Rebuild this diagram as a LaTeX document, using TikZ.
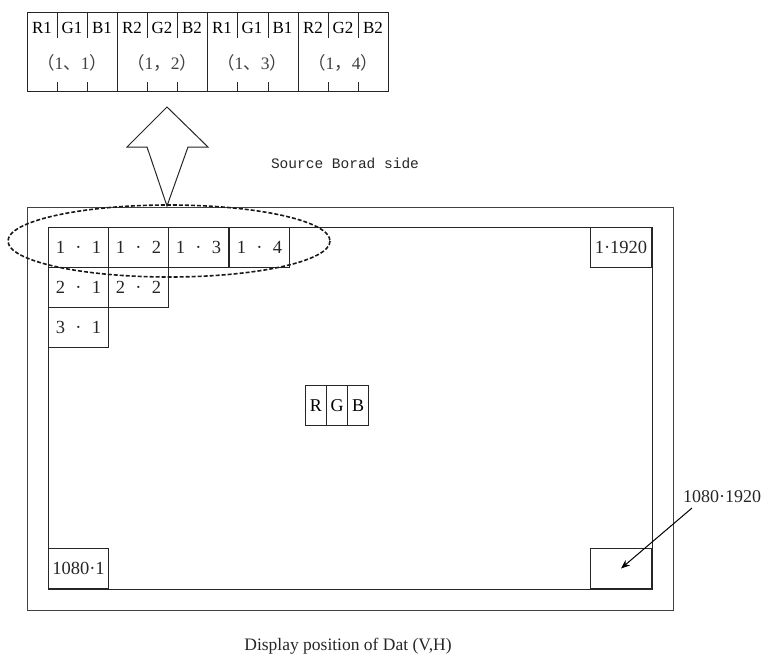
\documentclass[tikz,border=0pt]{standalone}
\usepackage{fontspec}
\setmainfont{Liberation Serif}
\newfontfamily\cjkf{Noto Sans CJK SC}
\newfontfamily\monof{Liberation Mono}
\usetikzlibrary{arrows.meta,calc}
\newcommand{\pdot}[2]{#1\hspace{0.55em}·\hspace{0.55em}#2}
\begin{document}
\begin{tikzpicture}[x=1pt,y=-1pt,
  line/.style={draw=black!85,line width=1pt},
  cell/.style={line,rectangle,minimum width=60pt,minimum height=40pt,inner sep=0pt,font=\fontsize{18.5}{18}\selectfont,text=black!85},
  sub/.style={line,rectangle,minimum width=21pt,minimum height=40pt,inner sep=0pt,font=\fontsize{18}{18}\selectfont,text=black},
  grp/.style={font=\fontsize{17.5}{18}\selectfont,text=black!75},
  lbl/.style={font=\fontsize{18}{18}\selectfont,text=black!85}]
\useasboundingbox (0,0) rectangle (764,659);
% ---- top strip ----
\draw[line] (27,12) rectangle (388,91);
\foreach \x in {117,207,298} \draw[line] (\x,12) -- (\x,91);
\foreach \x in {57,87,147,177,237,268,328,358} {
  \draw[line] (\x,12) -- (\x,38);
  \draw[line] (\x,82) -- (\x,91);
}
\foreach \t/\x in {R1/42,G1/72,B1/102,R2/132,G2/162,B2/192,R1/222,G1/252,B1/282.5,R2/313,G2/343,B2/373}
  \node[font=\fontsize{17}{17}\selectfont,text=black] at (\x,28) {\t};
\node[grp] (g1) at (72,63) {{\cjkf （}1{\cjkf 、}1{\cjkf ）}};
\node[grp] (g2) at (162,63) {{\cjkf （}1{\cjkf ，}2{\cjkf ）}};
\node[grp] (g3) at (252,63) {{\cjkf （}1{\cjkf 、}3{\cjkf ）}};
\node[grp] (g4) at (343,63) {{\cjkf （}1{\cjkf ，}4{\cjkf ）}};
% ---- hollow arrow ----
\draw[line,fill=white] (167,107) -- (208,147) -- (188,147) -- (167,206) -- (147,147) -- (127,147) -- cycle;
\node[font=\monof\fontsize{14.5}{15}\selectfont,text=black!85] (src) at (345,163) {Source Borad side};
% ---- boxes ----
\draw[line,draw=black!75] (27,207) rectangle (673,610);
\draw[line] (48,227) rectangle (652,589);
\node[cell,anchor=north west] (c11) at (48,227) {\pdot{1}{1}};
\node[cell,anchor=north west] (c12) at (108,227) {\pdot{1}{2}};
\node[cell,anchor=north west] (c13) at (168,227) {\pdot{1}{3}};
\node[cell,anchor=north west] (c14) at (229,227) {\pdot{1}{4}};
\node[cell,anchor=north west] (c21) at (48,267) {\pdot{2}{1}};
\node[cell,anchor=north west] (c22) at (108,267) {\pdot{2}{2}};
\node[cell,anchor=north west] (c31) at (48,307) {\pdot{3}{1}};
\node[cell,anchor=north east,minimum width=61pt] (c1n) at (652,227) {1·1920};
\node[cell,anchor=south west] (cn1) at (48,589) {1080·1};
\node[cell,anchor=south east,minimum width=61pt] (cnn) at (652,589) {};
% ---- RGB ----
\node[sub,anchor=north west] (r) at (305,385) {R};
\node[sub,anchor=north west] (g) at (326,385) {G};
\node[sub,anchor=north west] (b) at (347,385) {B};
% ---- dashed ellipse ----
\draw[line width=1.6pt,dash pattern=on 4pt off 2pt,draw=black!90] (169,241) ellipse [x radius=161, y radius=36];
% ---- labels ----
\node[lbl] (lab) at (722,497) {1080·1920};
\coordinate (a1) at (692,508);
\draw[line width=1pt,-{Stealth[length=9pt,width=7pt]}] (a1) -- (cnn.center);
\node[font=\fontsize{17.5}{17}\selectfont,text=black!85] (cap) at (348,646) {Display position of Dat (V,H)};
\end{tikzpicture}
\end{document}
